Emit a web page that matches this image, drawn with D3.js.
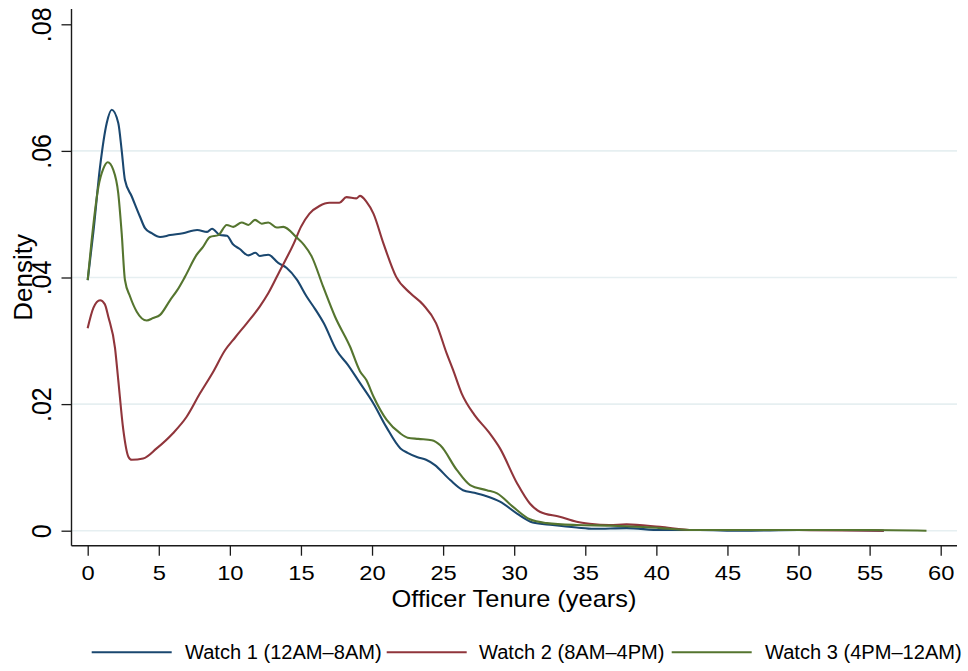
<!DOCTYPE html>
<html>
<head>
<meta charset="utf-8">
<script src="https://cdn.jsdelivr.net/npm/d3@7"></script>
<style>
  html, body { margin: 0; padding: 0; background: #fff; }
  svg { display: block; font-family: "Liberation Sans", Arial, Helvetica, sans-serif; }
</style>
</head>
<body>
<svg id="chart" width="968" height="671"></svg>
<script>
// ---------------- data ----------------
const seriesNames = ["Watch 1 (12AM\u20138AM)", "Watch 2 (8AM\u20134PM)", "Watch 3 (4PM\u201312AM)"];

const watch1Tenure = [0, 0.39, 0.87, 1.34, 1.69, 2.15, 2.39, 2.62, 3.1, 3.68, 4.03, 4.5, 5.09, 5.8, 6.7, 7.7, 8.4, 8.75, 9.3, 9.8, 10.2, 10.7, 11.3, 11.8, 12.1, 12.7, 13.4, 14.0, 14.7, 15.4, 16.0, 16.6, 17.5, 18.3, 19.1, 20.1, 21.0, 22.0, 22.5, 23.2, 23.8, 24.4, 25.5, 26.4, 27.2, 28.0, 29.0, 30.2, 31.3, 32.7, 34.4, 35.6, 37.9, 40.3, 43, 46, 50, 53, 56];
const watch1Density = [0.0396, 0.047, 0.0575, 0.0644, 0.0665, 0.0644, 0.0601, 0.0554, 0.0528, 0.0496, 0.0478, 0.047, 0.0464, 0.0467, 0.047, 0.0475, 0.0472, 0.0477, 0.0467, 0.0466, 0.0453, 0.0445, 0.0435, 0.0439, 0.0434, 0.0436, 0.0423, 0.0415, 0.0397, 0.037, 0.035, 0.0328, 0.0285, 0.0262, 0.0235, 0.0201, 0.0164, 0.013, 0.0123, 0.0116, 0.0112, 0.0104, 0.008, 0.0064, 0.006, 0.0055, 0.0046, 0.0027, 0.0013, 0.0009, 0.0005, 0.0003, 0.0004, 0.0001, 0.0001, 0.0, 0.0001, 0.0001, 0.0];

const watch2Tenure = [0, 0.4, 0.87, 1.2, 1.45, 1.92, 2.15, 2.5, 2.86, 3.1, 3.9, 4.85, 6.0, 6.96, 7.9, 8.8, 9.66, 10.4, 11.2, 12.1, 12.7, 13.5, 14.5, 15.0, 15.6, 16.3, 17.0, 17.7, 18.2, 18.9, 19.15, 19.6, 20.1, 20.8, 21.7, 22.7, 23.6, 24.5, 25.25, 25.7, 26.3, 27.2, 28.2, 29.0, 30.2, 31.1, 31.8, 33.2, 34.4, 35.3, 36.7, 37.9, 40.25, 42.6, 46, 50, 56];
const watch2Density = [0.032, 0.0352, 0.0364, 0.0358, 0.0338, 0.0289, 0.0238, 0.016, 0.0117, 0.0112, 0.0114, 0.013, 0.0154, 0.018, 0.0217, 0.025, 0.0285, 0.0306, 0.0328, 0.0354, 0.0375, 0.041, 0.0454, 0.048, 0.0501, 0.0513, 0.0518, 0.0518, 0.0527, 0.0525, 0.0529, 0.052, 0.0501, 0.0454, 0.0401, 0.0375, 0.0357, 0.0328, 0.028, 0.0254, 0.0217, 0.0183, 0.0156, 0.013, 0.0075, 0.0043, 0.003, 0.0022, 0.0014, 0.0011, 0.0009, 0.001, 0.0006, 0.0001, 0.0001, 0.0001, 0.0];

const watch3Tenure = [0, 0.28, 0.75, 1.1, 1.41, 1.8, 2.15, 2.39, 2.62, 2.98, 3.45, 4.15, 4.6, 5.09, 5.79, 6.3, 6.84, 7.67, 8.1, 8.6, 9.19, 9.78, 10.24, 10.83, 11.3, 11.77, 12.24, 12.7, 13.3, 13.76, 14.7, 15.2, 15.76, 16.57, 17.4, 18.45, 19.15, 19.6, 20.1, 21.03, 21.97, 22.5, 23.25, 24.2, 24.8, 25.96, 26.9, 28.07, 28.8, 29.9, 31.1, 32.3, 34.4, 36.7, 37.9, 40.3, 42.6, 46, 50, 55, 59];
const watch3Density = [0.0396, 0.0459, 0.0543, 0.0572, 0.0582, 0.057, 0.0533, 0.047, 0.0396, 0.037, 0.0346, 0.0332, 0.0336, 0.0341, 0.0364, 0.038, 0.0401, 0.0436, 0.0448, 0.0464, 0.0467, 0.0483, 0.048, 0.0487, 0.0483, 0.0491, 0.0485, 0.0487, 0.0479, 0.048, 0.0463, 0.0452, 0.0433, 0.0385, 0.0338, 0.0291, 0.0252, 0.0238, 0.0212, 0.0175, 0.0154, 0.0147, 0.0145, 0.0143, 0.0135, 0.0096, 0.0072, 0.0064, 0.0059, 0.0038, 0.0018, 0.0012, 0.0009, 0.0008, 0.0007, 0.0004, 0.0001, 0.0001, 0.0001, 0.0001, 0.0];

const xTicks = [0, 5, 10, 15, 20, 25, 30, 35, 40, 45, 50, 55, 60];
const yTicks = [0, 0.02, 0.04, 0.06, 0.08];
const yTickLabels = ["0", ".02", ".04", ".06", ".08"];
const gridValues = [0, 0.02, 0.04, 0.06];
const xTitle = "Officer Tenure (years)";
const yTitle = "Density";
const colors = ["#1a476f", "#90353b", "#55752f"];

// ---------------- layout ----------------
const svg = d3.select("#chart");
const axisX0 = 71.5, axisX1 = 957, axisYTop = 9, axisYBottom = 545.7;
const x = d3.scaleLinear().domain([0, 60]).range([87.7, 940.7]);
const y = d3.scaleLinear().domain([0, 0.08]).range([530.7, 24.3]);
const FONT = '"Liberation Sans", Arial, Helvetica, sans-serif';

// gridlines
svg.append("g").selectAll("line").data(gridValues).join("line")
  .attr("x1", axisX0).attr("x2", axisX1)
  .attr("y1", d => y(d)).attr("y2", d => y(d))
  .attr("stroke", "#e6eff1").attr("stroke-width", 1.6);

// density curves
const series = [
  { t: watch1Tenure, d: watch1Density },
  { t: watch2Tenure, d: watch2Density },
  { t: watch3Tenure, d: watch3Density }
];
const line = d3.line().x(p => x(p[0])).y(p => y(p[1])).curve(d3.curveMonotoneX);
series.forEach((s, i) => {
  svg.append("path")
    .datum(s.t.map((t, k) => [t, s.d[k]]))
    .attr("fill", "none")
    .attr("stroke", colors[i])
    .attr("stroke-width", 2.1)
    .attr("stroke-linejoin", "round")
    .attr("d", line);
});

// x axis
const gx = svg.append("g").attr("transform", `translate(0,${axisYBottom})`)
  .call(d3.axisBottom(x).tickValues(xTicks).tickSize(10).tickPadding(9).tickFormat(d3.format("d")));
gx.select(".domain").remove();
gx.selectAll(".tick line").attr("stroke", "#1a1a1a").attr("stroke-width", 1.3);
gx.selectAll(".tick text")
  .attr("fill", "#000").attr("font-family", FONT).attr("font-size", 21)
  .attr("transform", "scale(1.13,1)");
svg.append("line").attr("x1", axisX0).attr("x2", axisX1)
  .attr("y1", axisYBottom).attr("y2", axisYBottom)
  .attr("stroke", "#1a1a1a").attr("stroke-width", 1.4);

// y axis
const gy = svg.append("g").attr("transform", `translate(${axisX0},0)`)
  .call(d3.axisLeft(y).tickValues(yTicks).tickSize(10).tickFormat((d, i) => yTickLabels[i]));
gy.select(".domain").remove();
gy.selectAll(".tick line").attr("stroke", "#1a1a1a").attr("stroke-width", 1.3);
gy.selectAll(".tick text")
  .attr("x", 0).attr("dy", 0)
  .attr("text-anchor", "middle")
  .attr("fill", "#000").attr("font-family", FONT).attr("font-size", 25)
  .attr("transform", `translate(${50.7 - axisX0},0) scale(1.12,1) rotate(-90)`);
svg.append("line").attr("x1", axisX0).attr("x2", axisX0)
  .attr("y1", axisYTop).attr("y2", axisYBottom)
  .attr("stroke", "#1a1a1a").attr("stroke-width", 1.4);

// axis titles
svg.append("text")
  .attr("text-anchor", "middle").attr("font-family", FONT).attr("font-size", 24).attr("fill", "#000")
  .attr("transform", `translate(514,607) scale(1.06,1)`)
  .text(xTitle);
svg.append("text")
  .attr("text-anchor", "middle").attr("font-family", FONT).attr("font-size", 26).attr("fill", "#000")
  .attr("transform", `translate(32.3,${(axisYTop + axisYBottom) / 2}) rotate(-90)`)
  .text(yTitle);

// legend
const legendItems = [
  { lx: 91.7, tx: 185 },
  { lx: 386.7, tx: 479 },
  { lx: 671.7, tx: 765 }
];
const lg = svg.append("g");
seriesNames.forEach((name, i) => {
  const it = legendItems[i];
  lg.append("line")
    .attr("x1", it.lx).attr("x2", it.lx + 80)
    .attr("y1", 652.3).attr("y2", 652.3)
    .attr("stroke", colors[i]).attr("stroke-width", 2.1);
  lg.append("text")
    .attr("font-family", FONT).attr("font-size", 19.5).attr("fill", "#000")
    .attr("transform", `translate(${it.tx},659) scale(1.03,1)`)
    .text(name);
});
</script>
</body>
</html>
